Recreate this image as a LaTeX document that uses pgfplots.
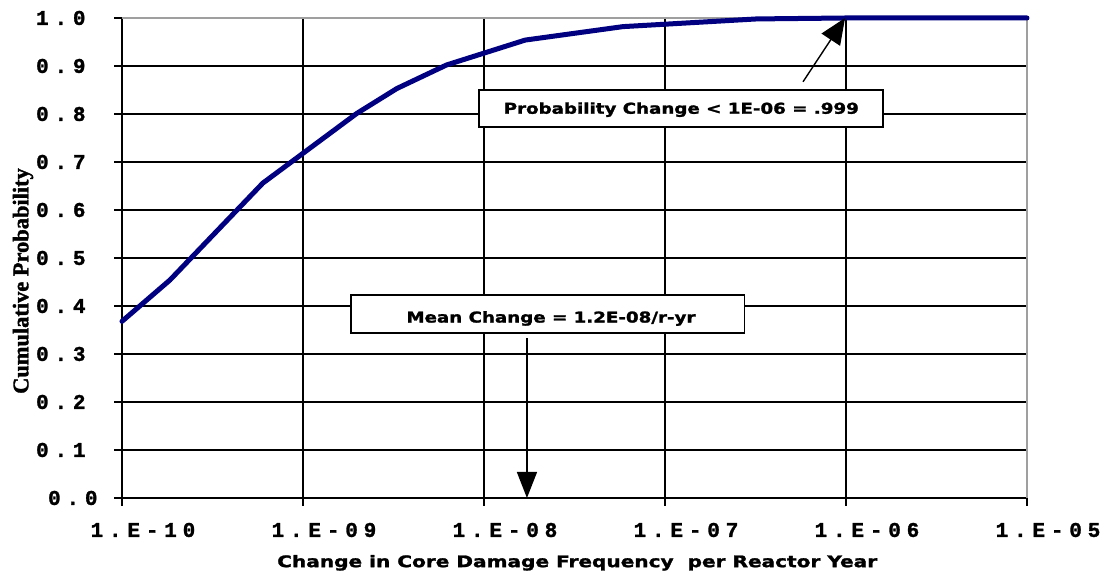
\documentclass[border=0pt]{standalone}
\usepackage{fontspec}
\setmainfont{DejaVu Sans}[BoldFeatures={FakeBold=1.5}]
\newfontfamily\tickfont{Liberation Mono}[LetterSpace=28, BoldFeatures={FakeBold=1.5}]
\newfontfamily\serifb{Liberation Serif}[BoldFeatures={FakeBold=1.5}]
\usepackage{graphicx}
\usepackage{pgfplots}
\pgfplotsset{compat=1.18}
\usetikzlibrary{arrows.meta}
\definecolor{navyline}{RGB}{0,0,128}
\begin{document}
\begin{tikzpicture}[x=1bp,y=1bp]
\path[use as bounding box] (-122,-73) rectangle (978,498);
\begin{axis}[
  at={(0,0)}, anchor=south west,
  scale only axis, width=905bp, height=480bp,
  xmode=log, xmin=1e-10, xmax=1e-5, ymin=0, ymax=1,
  clip=false,
  xtick={1e-10,1e-9,1e-8,1e-7,1e-6,1e-5},
  xticklabels={1.E-10,1.E-09,1.E-08,1.E-07,1.E-06,1.E-05},
  xminorticks=false,
  ytick={0,0.1,0.2,0.3,0.4,0.5,0.6,0.7,0.8,0.9,1.0},
  yticklabels={{\rlap{\hspace{12bp}0.0}\phantom{0.0}},0.1,0.2,0.3,0.4,0.5,0.6,0.7,0.8,0.9,1.0},
  grid=major, major grid style={black, line width=1.4bp},
  axis x line*=bottom, axis y line*=left,
  axis line style={black, line width=1.4bp, -},
  tick align=outside, major tick length=8bp,
  tick style={black, line width=1.4bp},
  xticklabel style={font=\tickfont\bfseries\fontsize{21}{21}\selectfont, anchor=center, yshift=-24bp, xshift=21bp},
  yticklabel style={font=\tickfont\bfseries\fontsize{21}{21}\selectfont, anchor=east, xshift=-25bp},
  xlabel={\scalebox{1.26}[1]{Change in Core Damage Frequency\ \ per Reactor Year}},
  xlabel style={font=\bfseries\fontsize{16}{16}\selectfont, at={(axis description cs:0.503,-0.135)}, anchor=center},
  ylabel={Cumulative Probability},
  ylabel style={font=\serifb\bfseries\fontsize{22.5}{22.5}\selectfont, at={(axis description cs:-0.1094,0.452)}, anchor=center},
]
\draw[gray!75, line width=1.4bp] (rel axis cs:0,1) -- (rel axis cs:1,1) -- (rel axis cs:1,0);
\addplot[navyline, line width=5bp, line join=round, line cap=round] coordinates {
  (1e-10, 0.368)
  (1.84e-10, 0.454)
  (6.0e-10, 0.656)
  (1.98e-9, 0.801)
  (3.3e-9, 0.853)
  (6.2e-9, 0.902)
  (1.69e-8, 0.954)
  (5.86e-8, 0.982)
  (3.2e-7, 0.998)
  (1e-6, 1.0)
  (1e-5, 1.0)
};
\draw[black, line width=1.4bp, fill=white] (rel axis cs:0.253,0.344) rectangle (rel axis cs:0.688,0.423);
\node[font=\bfseries\fontsize{15}{15}\selectfont] at (rel axis cs:0.474,0.374) {\scalebox{1.22}[1]{Mean Change = 1.2E-08/r-yr}};
\draw[black, line width=1.4bp, fill=white] (rel axis cs:0.3945,0.773) rectangle (rel axis cs:0.841,0.85);
\node[font=\bfseries\fontsize{15}{15}\selectfont] at (rel axis cs:0.618,0.809) {\scalebox{1.22}[1]{Probability Change < 1E-06 = .999}};
\draw[black, line width=1.4bp, -{Triangle[width=20bp,length=26bp]}] (rel axis cs:0.4475,0.333) -- (rel axis cs:0.4475,0);
\draw[black, line width=1.4bp, -{Triangle[width=22bp,length=26bp]}] (rel axis cs:0.7525,0.867) -- (rel axis cs:0.799,1.0);
\end{axis}
\end{tikzpicture}
\end{document}
